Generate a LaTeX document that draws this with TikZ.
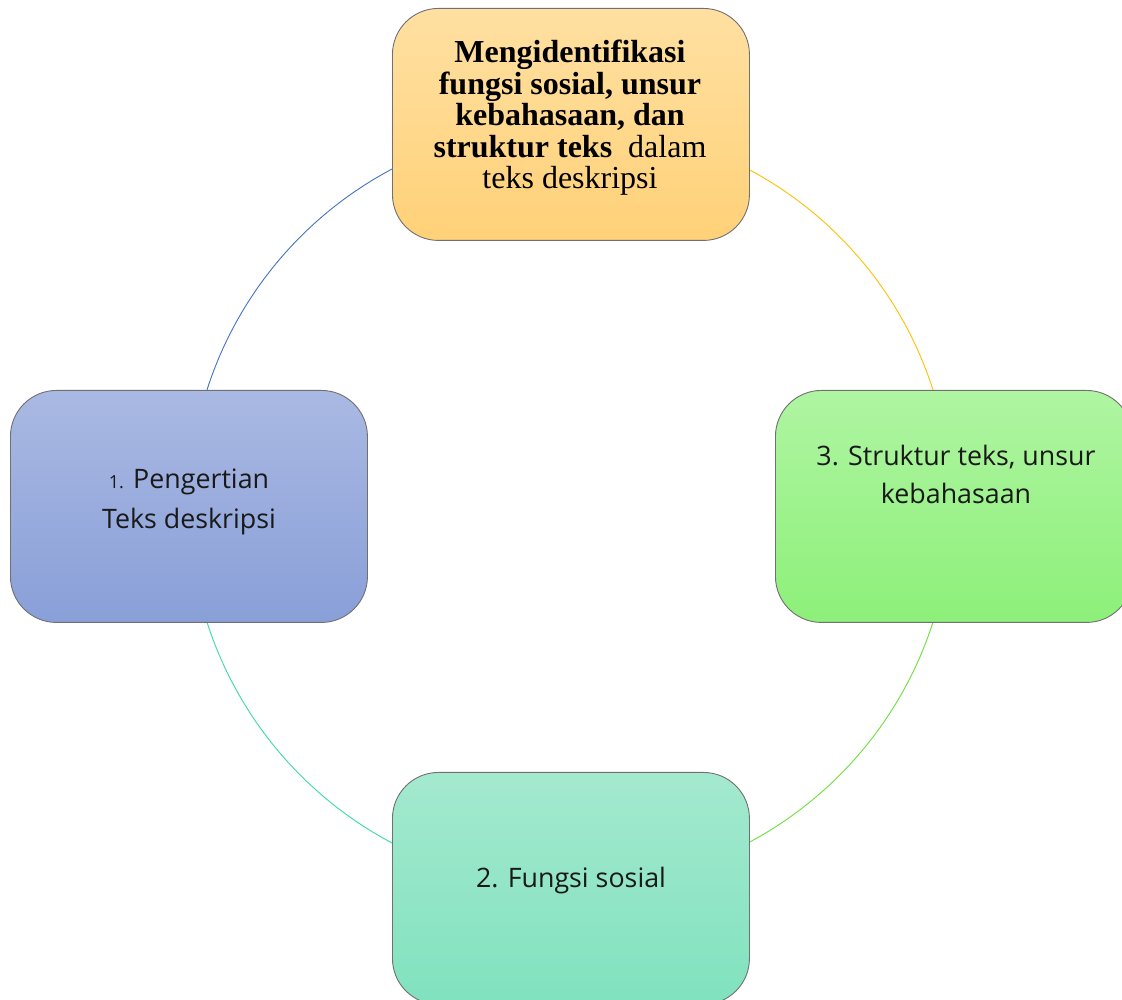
\documentclass[tikz,border=0pt]{standalone}
\usepackage{fontspec}
\usetikzlibrary{calc}
\setmainfont{Liberation Serif}
\newfontfamily\uisans{Open Sans}
\definecolor{orTop}{RGB}{255,224,162}
\definecolor{orBot}{RGB}{255,209,120}
\definecolor{blTop}{RGB}{170,185,227}
\definecolor{blBot}{RGB}{137,159,216}
\definecolor{grTop}{RGB}{175,245,162}
\definecolor{grBot}{RGB}{141,240,121}
\definecolor{tlTop}{RGB}{164,233,207}
\definecolor{tlBot}{RGB}{128,226,190}
\definecolor{edge}{RGB}{112,112,112}
\definecolor{arcBlue}{RGB}{68,114,196}
\definecolor{arcYel}{RGB}{255,192,0}
\definecolor{arcGrn}{RGB}{110,224,60}
\definecolor{arcTeal}{RGB}{60,220,160}
\begin{document}
\begin{tikzpicture}[x=1pt,y=1pt,
  box/.style={rounded corners=46pt, draw=edge, line width=0.9pt,
    minimum width=357pt, minimum height=232pt, anchor=north west, inner sep=0pt},
  lbl/.style={font=\uisans\fontsize{26.8}{38}\selectfont, align=center, text=black!90, inner sep=0pt},
  serifl/.style={font=\fontsize{32}{31.5}\selectfont, align=center, text=black, inner sep=0pt},
  ring/.style={line width=0.9pt}]
\useasboundingbox (0,0) rectangle (1122,999);
\fill[white] (0,0) rectangle (1122,999);
\coordinate (c) at (570,493);
% ring arcs
\draw[ring, arcBlue] ($(c)+(90:381)$) arc[start angle=90, end angle=180, radius=381pt];
\draw[ring, arcYel] ($(c)+(0:381)$) arc[start angle=0, end angle=90, radius=381pt];
\draw[ring, arcGrn] ($(c)+(270:381)$) arc[start angle=270, end angle=360, radius=381pt];
\draw[ring, arcTeal] ($(c)+(180:381)$) arc[start angle=180, end angle=270, radius=381pt];
% boxes
\node[box, top color=orTop, bottom color=orBot] (top) at (392,991) {};
\node[box, top color=blTop, bottom color=blBot] (left) at (10,609) {};
\node[box, top color=grTop, bottom color=grBot] (right) at (775,609) {};
\node[box, top color=tlTop, bottom color=tlBot] (bottom) at (392,227) {};
% texts
\node[serifl] (topt) at (570,881) {{\bfseries Mengidentifikasi}\\{\bfseries fungsi sosial, unsur}\\{\bfseries kebahasaan, dan}\\{\bfseries struktur teks}\ \ dalam\\teks deskripsi};
\node[lbl, font=\uisans\fontsize{26.8}{40.5}\selectfont] (leftt) at (189,497) {{\fontsize{18}{40}\selectfont 1.} Pengertian\\Teks deskripsi};
\node[lbl] (rightt) at (956,525) {3. Struktur teks, unsur\\kebahasaan};
\node[lbl] (bottomt) at (571,118) {2. Fungsi sosial};
\end{tikzpicture}
\end{document}
